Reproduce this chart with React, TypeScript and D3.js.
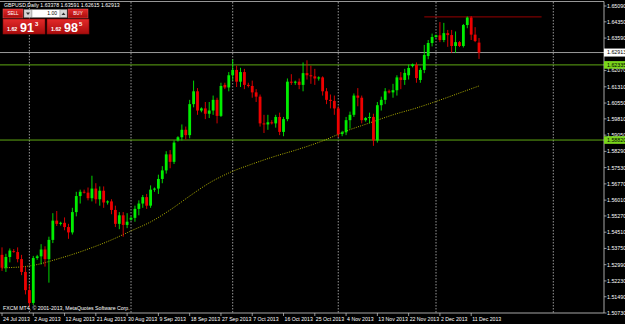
import React from 'react';
import * as d3 from 'd3';

const W = 625;
const H = 324;

// GBPUSD daily bars, 24 Jul 2013 .. 13 Dec 2013 (FXCM feed, Sunday bars included)
// [open, high, low, close]
const candles: [number, number, number, number][] = [
  [1.5345, 1.5380, 1.5270, 1.5285], [1.5285, 1.5350, 1.5265, 1.5335], [1.5335, 1.5375, 1.5310, 1.5365],
  [1.5362, 1.5372, 1.5355, 1.5358], [1.5358, 1.5380, 1.5310, 1.5325], [1.5325, 1.5345, 1.5250, 1.5265],
  [1.5265, 1.5290, 1.5160, 1.5180], [1.5180, 1.5205, 1.5102, 1.5120], [1.5120, 1.5340, 1.5110, 1.5330],
  [1.5330, 1.5345, 1.5322, 1.5338], [1.5338, 1.5395, 1.5300, 1.5370], [1.5370, 1.5385, 1.5290, 1.5325],
  [1.5325, 1.5430, 1.5215, 1.5415], [1.5415, 1.5540, 1.5400, 1.5505], [1.5505, 1.5550, 1.5480, 1.5490],
  [1.5490, 1.5500, 1.5482, 1.5495], [1.5495, 1.5520, 1.5460, 1.5475], [1.5475, 1.5490, 1.5420, 1.5450],
  [1.5450, 1.5565, 1.5440, 1.5545], [1.5545, 1.5640, 1.5525, 1.5620], [1.5620, 1.5650, 1.5585, 1.5640],
  [1.5640, 1.5650, 1.5632, 1.5636], [1.5636, 1.5660, 1.5600, 1.5610], [1.5610, 1.5715, 1.5595, 1.5655],
  [1.5655, 1.5680, 1.5585, 1.5605], [1.5605, 1.5665, 1.5575, 1.5645], [1.5645, 1.5665, 1.5565, 1.5590],
  [1.5590, 1.5600, 1.5580, 1.5595], [1.5595, 1.5605, 1.5535, 1.5555], [1.5555, 1.5575, 1.5475, 1.5490],
  [1.5490, 1.5545, 1.5465, 1.5530], [1.5530, 1.5545, 1.5430, 1.5485], [1.5485, 1.5540, 1.5470, 1.5500],
  [1.5510, 1.5525, 1.5505, 1.5518], [1.5518, 1.5575, 1.5500, 1.5560], [1.5560, 1.5600, 1.5530, 1.5585],
  [1.5585, 1.5625, 1.5565, 1.5615], [1.5615, 1.5630, 1.5560, 1.5575], [1.5575, 1.5670, 1.5565, 1.5650],
  [1.5650, 1.5660, 1.5640, 1.5655], [1.5655, 1.5720, 1.5630, 1.5700], [1.5700, 1.5760, 1.5680, 1.5740],
  [1.5740, 1.5830, 1.5725, 1.5815], [1.5815, 1.5835, 1.5750, 1.5780], [1.5780, 1.5880, 1.5770, 1.5870],
  [1.5880, 1.5900, 1.5875, 1.5895], [1.5895, 1.5955, 1.5880, 1.5930], [1.5930, 1.5945, 1.5885, 1.5905],
  [1.5905, 1.6070, 1.5890, 1.6050], [1.6050, 1.6160, 1.6035, 1.6110], [1.6110, 1.6125, 1.6000, 1.6020],
  [1.6020, 1.6035, 1.6012, 1.6030], [1.6030, 1.6060, 1.5980, 1.6005], [1.6005, 1.6060, 1.5985, 1.6020],
  [1.6020, 1.6090, 1.6000, 1.6070], [1.6070, 1.6080, 1.5960, 1.5995], [1.5995, 1.6150, 1.5990, 1.6135],
  [1.6140, 1.6150, 1.6120, 1.6128], [1.6128, 1.6200, 1.6110, 1.6185], [1.6185, 1.6259, 1.6160, 1.6210],
  [1.6210, 1.6230, 1.6130, 1.6155], [1.6155, 1.6220, 1.6130, 1.6200], [1.6200, 1.6215, 1.6120, 1.6140],
  [1.6140, 1.6150, 1.6128, 1.6135], [1.6135, 1.6160, 1.6080, 1.6105], [1.6105, 1.6120, 1.6060, 1.6085],
  [1.6085, 1.6095, 1.5945, 1.5960], [1.5960, 1.6000, 1.5915, 1.5955], [1.5955, 1.6000, 1.5930, 1.5965],
  [1.5965, 1.5975, 1.5955, 1.5960], [1.5960, 1.6000, 1.5940, 1.5990], [1.5990, 1.6010, 1.5905, 1.5920],
  [1.5920, 1.5990, 1.5900, 1.5980], [1.5980, 1.6170, 1.5970, 1.6155], [1.6155, 1.6190, 1.6140, 1.6150],
  [1.6150, 1.6160, 1.6140, 1.6155], [1.6155, 1.6170, 1.6120, 1.6140], [1.6140, 1.6245, 1.6110, 1.6195],
  [1.6195, 1.6255, 1.6165, 1.6185], [1.6185, 1.6230, 1.6145, 1.6180], [1.6180, 1.6215, 1.6140, 1.6170],
  [1.6170, 1.6180, 1.6160, 1.6175], [1.6175, 1.6180, 1.6090, 1.6110], [1.6110, 1.6125, 1.6050, 1.6070],
  [1.6070, 1.6095, 1.6030, 1.6065], [1.6065, 1.6090, 1.6000, 1.6030], [1.6030, 1.6040, 1.5895, 1.5910],
  [1.5910, 1.5925, 1.5900, 1.5918], [1.5918, 1.5990, 1.5905, 1.5975], [1.5975, 1.6015, 1.5935, 1.6000],
  [1.6000, 1.6100, 1.5990, 1.6090], [1.6090, 1.6125, 1.6040, 1.6080], [1.6080, 1.6090, 1.5960, 1.5975],
  [1.5975, 1.5990, 1.5968, 1.5985], [1.5985, 1.6010, 1.5960, 1.5990], [1.5990, 1.6005, 1.5855, 1.5880],
  [1.5880, 1.6060, 1.5870, 1.6045], [1.6045, 1.6085, 1.6020, 1.6070], [1.6070, 1.6125, 1.6050, 1.6110],
  [1.6110, 1.6118, 1.6100, 1.6105], [1.6105, 1.6145, 1.6080, 1.6115], [1.6115, 1.6185, 1.6090, 1.6175],
  [1.6175, 1.6200, 1.6120, 1.6163], [1.6163, 1.6215, 1.6140, 1.6196], [1.6185, 1.6235, 1.6165, 1.6219],
  [1.6228, 1.6240, 1.6222, 1.6236], [1.6233, 1.6245, 1.6150, 1.6172], [1.6163, 1.6220, 1.6150, 1.6210],
  [1.6210, 1.6327, 1.6195, 1.6280], [1.6275, 1.6350, 1.6260, 1.6336], [1.6336, 1.6380, 1.6320, 1.6364],
  [1.6364, 1.6375, 1.6360, 1.6372], [1.6372, 1.6434, 1.6340, 1.6350], [1.6350, 1.6430, 1.6340, 1.6382],
  [1.6382, 1.6397, 1.6318, 1.6373], [1.6373, 1.6397, 1.6290, 1.6322], [1.6322, 1.6390, 1.6290, 1.6340],
  [1.6340, 1.6345, 1.6317, 1.6322], [1.6322, 1.6425, 1.6315, 1.6420], [1.6420, 1.6460, 1.6405, 1.6455],
  [1.6455, 1.6462, 1.6350, 1.6375], [1.6375, 1.6410, 1.6340, 1.6345], [1.63378, 1.63591, 1.62615, 1.62913],
];

// moving average: [bar, price]
const maPoints: [number, number][] = [
  [0, 1.5284], [7, 1.5293], [15, 1.5330], [22, 1.5372], [28, 1.5415], [33, 1.5457], [38, 1.5499],
  [43, 1.5555], [48, 1.5620], [53, 1.5681], [58, 1.5728], [64, 1.5770], [70, 1.5807], [76, 1.5840],
  [82, 1.5878], [88, 1.5924], [94, 1.5962], [100, 1.6000], [106, 1.6032], [112, 1.6069], [117, 1.6102],
  [122, 1.6135],
];

// one date label every 8 bars
const dateLabels = [
  '24 Jul 2013', '2 Aug 2013', '12 Aug 2013', '21 Aug 2013', '30 Aug 2013', '9 Sep 2013',
  '18 Sep 2013', '27 Sep 2013', '7 Oct 2013', '16 Oct 2013', '25 Oct 2013', '4 Nov 2013',
  '13 Nov 2013', '22 Nov 2013', '2 Dec 2013', '11 Dec 2013',
];

// 1.62830 sits under the bid box in the original, so it is not listed
const priceLabels = [
  1.6509, 1.6435, 1.6359, 1.6207, 1.6131, 1.6055, 1.5981, 1.5905, 1.5829,
  1.5753, 1.5677, 1.5601, 1.5527, 1.5451, 1.5375, 1.5299, 1.5223, 1.5149, 1.5073,
];

// month separators (bar index of first bar of the month)
const separators = [7, 33, 59, 86, 111, 141];

const bid = 1.62913;
const greenLevels = [1.62335, 1.5882];
const resistance = { price: 1.6458, from: 108, to: 138 };

const header = 'GBPUSD,Daily  1.63378 1.63591 1.62615 1.62913';

const PLOT_R = 604;
const PLOT_B = 313;

const x = d3.scaleLinear().domain([0, 154]).range([2, 2 + 154 * 3.91]);
const y = d3.scaleLinear().domain([1.5073, 1.6509]).range([PLOT_B, 6]);

const FONT = '"Liberation Sans", Arial, sans-serif';
const BULL = '#00ee00';
const BEAR = '#ee0000';

const PricePanel = ({ left, big, small }: { left: number; big: string; small: string }) => (
  <g>
    <rect x={left} y={19} width={42} height={15} fill="url(#redGrad)" stroke="#8a0a0a" strokeWidth={0.6} />
    <text x={left + 4} y={30.5} fill="#fff" fontSize={5.3} fontWeight="bold" fontFamily={FONT}>1.62</text>
    <text x={left + 17} y={31.5} fill="#fff" fontSize={12.5} fontWeight="bold" fontFamily={FONT}>{big}</text>
    <text x={left + 32} y={26} fill="#fff" fontSize={6} fontWeight="bold" fontFamily={FONT}>{small}</text>
  </g>
);

export default function App() {
  const maLine = d3.line<[number, number]>()
    .x(d => x(d[0]))
    .y(d => y(d[1]))
    .curve(d3.curveMonotoneX);

  return (
    <svg width={W} height={H} style={{ position: 'absolute', left: 0, top: 0 }}>
      <defs>
        <linearGradient id="redGrad" x1="0" y1="0" x2="0" y2="1">
          <stop offset="0%" stopColor="#e42a2a" />
          <stop offset="100%" stopColor="#a80c0c" />
        </linearGradient>
        <clipPath id="plot">
          <rect x={0} y={1} width={PLOT_R} height={PLOT_B - 1} />
        </clipPath>
      </defs>
      <rect width={W} height={H} fill="#000" />

      {/* month separators */}
      {separators.map(s => (
        <line key={s} x1={x(s)} x2={x(s)} y1={2} y2={PLOT_B} stroke="#a8a8a8" strokeWidth={0.9} strokeDasharray="1.5 1.5" />
      ))}

      <g clipPath="url(#plot)">
        {/* horizontal levels */}
        {greenLevels.map(p => (
          <line key={p} x1={0} x2={PLOT_R} y1={y(p)} y2={y(p)} stroke="#5fa813" strokeWidth={1} />
        ))}
        <line x1={0} x2={PLOT_R} y1={y(bid)} y2={y(bid)} stroke="#9a9a9a" strokeWidth={1} />
        <line x1={x(resistance.from)} x2={x(resistance.to)} y1={y(resistance.price)} y2={y(resistance.price)}
          stroke="#9a0000" strokeWidth={1} />

        {/* moving average */}
        <path d={maLine(maPoints) || ''} fill="none" stroke="#c4c400" strokeWidth={0.9} strokeDasharray="1 1.3" />

        {/* candles */}
        {candles.map(([o, h, l, c], i) => {
          const col = c >= o ? BULL : BEAR;
          const cx = x(i);
          const top = y(Math.max(o, c));
          const bh = Math.max(0.8, Math.abs(y(o) - y(c)));
          return (
            <g key={i}>
              <line x1={cx} x2={cx} y1={y(h)} y2={y(l)} stroke={col} strokeWidth={0.9} />
              <rect x={cx - 1.4} y={top} width={2.8} height={bh} fill={col} />
            </g>
          );
        })}
      </g>

      {/* frame */}
      <line x1={0} x2={PLOT_R} y1={1.5} y2={1.5} stroke="#bdbdbd" strokeWidth={0.8} />
      <line x1={0} x2={PLOT_R} y1={PLOT_B} y2={PLOT_B} stroke="#d0d0d0" strokeWidth={0.8} />
      <line x1={PLOT_R} x2={PLOT_R} y1={1.5} y2={PLOT_B} stroke="#d0d0d0" strokeWidth={0.8} />

      {/* price axis */}
      {priceLabels.map(p => (
        <g key={p}>
          <line x1={PLOT_R} x2={PLOT_R + 2.5} y1={y(p)} y2={y(p)} stroke="#d0d0d0" strokeWidth={0.7} />
          <text x={PLOT_R + 3} y={y(p) + 1.9} fill="#fff" fontSize={5.3} fontFamily={FONT}>{p.toFixed(5)}</text>
        </g>
      ))}
      <rect x={PLOT_R} y={y(bid) - 4} width={W - PLOT_R} height={8} fill="#fff" />
      <text x={PLOT_R + 3} y={y(bid) + 1.9} fill="#000" fontSize={5.3} fontFamily={FONT}>{bid.toFixed(5)}</text>
      {greenLevels.map(p => (
        <g key={p}>
          <rect x={PLOT_R} y={y(p) - 3.8} width={W - PLOT_R} height={7.6} fill="#7ad61c" />
          <text x={PLOT_R + 3} y={y(p) + 1.9} fill="#000" fontSize={5.3} fontFamily={FONT}>{p.toFixed(5)}</text>
        </g>
      ))}

      {/* date axis */}
      {dateLabels.map((d, k) => (
        <g key={d}>
          <line x1={x(k * 8)} x2={x(k * 8)} y1={PLOT_B} y2={PLOT_B + 3} stroke="#d0d0d0" strokeWidth={0.7} />
          <text x={x(k * 8) + 1} y={PLOT_B + 8} fill="#fff" fontSize={5.2} fontFamily={FONT}>{d}</text>
        </g>
      ))}

      {/* header + copyright */}
      <text x={4} y={7} fill="#fff" fontSize={5.2} fontFamily={FONT}>{header}</text>
      <text x={3} y={310} fill="#fff" fontSize={5.2} fontFamily={FONT}>FXCM MT4, © 2001-2013, MetaQuotes Software Corp.</text>

      {/* one-click trading panel */}
      <rect x={3} y={9} width={20} height={9} fill="url(#redGrad)" stroke="#e06060" strokeWidth={0.5} />
      <text x={13} y={15.3} fill="#fff" fontSize={4.6} textAnchor="middle" fontFamily={FONT}>SELL</text>
      <rect x={24} y={9.5} width={8} height={8} fill="#d6d6d6" stroke="#888" strokeWidth={0.4} />
      <path d="M26 12.5 L30 12.5 L28 15 Z" fill="#333" />
      <rect x={32} y={9.5} width={28} height={8} fill="#fff" stroke="#888" strokeWidth={0.4} />
      <text x={57} y={15.3} fill="#000" fontSize={5} textAnchor="end" fontFamily={FONT}>1.00</text>
      <rect x={60} y={9.5} width={7} height={8} fill="#d6d6d6" stroke="#888" strokeWidth={0.4} />
      <path d="M61.5 15 L65.5 15 L63.5 12.5 Z" fill="#333" />
      <rect x={68} y={9} width={20} height={9} fill="url(#redGrad)" stroke="#e06060" strokeWidth={0.5} />
      <text x={78} y={15.3} fill="#fff" fontSize={4.6} textAnchor="middle" fontFamily={FONT}>BUY</text>
      <PricePanel left={3} big="91" small="3" />
      <PricePanel left={47} big="98" small="5" />
    </svg>
  );
}
